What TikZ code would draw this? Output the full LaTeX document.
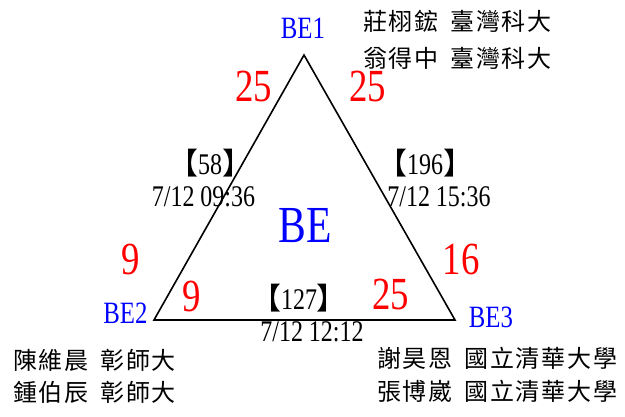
\documentclass[tikz,border=0pt]{standalone}
\usepackage{fontspec}
\setmainfont{Liberation Serif}[FakeStretch=0.8]
\newfontfamily\cjk{Noto Sans CJK TC}
\newfontfamily\cjkwide{Noto Sans CJK TC}[LetterSpace=7.5,WordSpace=1.6]
\usetikzlibrary{positioning}

\begin{document}
\begin{tikzpicture}[x=1pt,y=-1pt,inner sep=0pt,
  team/.style={anchor=base,text=blue,font=\fontsize{31}{31}\selectfont},
  score/.style={anchor=base,text=red,font=\fontsize{46}{46}\selectfont},
  match/.style={anchor=base,font=\fontsize{30}{30}\selectfont},
  member/.style={anchor=west,font=\cjkwide\fontsize{24}{24}\selectfont}]
\useasboundingbox (0,0) rectangle (625,417);
% triangle
\coordinate (v1) at (304,55);
\coordinate (v2) at (154,320);
\coordinate (v3) at (455,320);
\draw[line width=1.6pt,line join=miter] (v1) -- (v2) -- (v3) -- cycle;
% teams
\node[team] (be1) at (303,39) {BE1};
\node[team] (be2) at (125.5,324) {BE2};
\node[team] (be3) at (491,327) {BE3};
\node[team,font=\fontsize{52}{52}\selectfont] (be) at (305.5,243) {BE};
% scores
\node[score] (s12a) at (253.5,102) {25};
\node[score] (s13a) at (367.5,102) {25};
\node[score] (s21a) at (130.5,275) {9};
\node[score] (s21b) at (191.5,312) {9};
\node[score] (s31a) at (461,275) {16};
\node[score] (s31b) at (390.5,310) {25};
% matches
\node[match] (m12) at (210,175) {{\cjk 【}58{\cjk 】}};
\node[match] (d12) at (203.5,207) {7/12 09:36};
\node[match] (m13) at (425,175) {{\cjk 【}196{\cjk 】}};
\node[match] (d13) at (439,207) {7/12 15:36};
\node[match] (m23) at (299,310) {{\cjk 【}127{\cjk 】}};
\node[match] (d23) at (312,342) {7/12 12:12};
% members
\node[member] (p1a) at (363,21) {莊栩鋐 臺灣科大};
\node[member] (p1b) at (363,58) {翁得中 臺灣科大};
\node[member] (p2a) at (13,360) {陳維晨 彰師大};
\node[member] (p2b) at (13,392) {鍾伯辰 彰師大};
\node[member] (p3a) at (377,358) {謝昊恩 國立清華大學};
\node[member] (p3b) at (377,391) {張博崴 國立清華大學};
\end{tikzpicture}
\end{document}
